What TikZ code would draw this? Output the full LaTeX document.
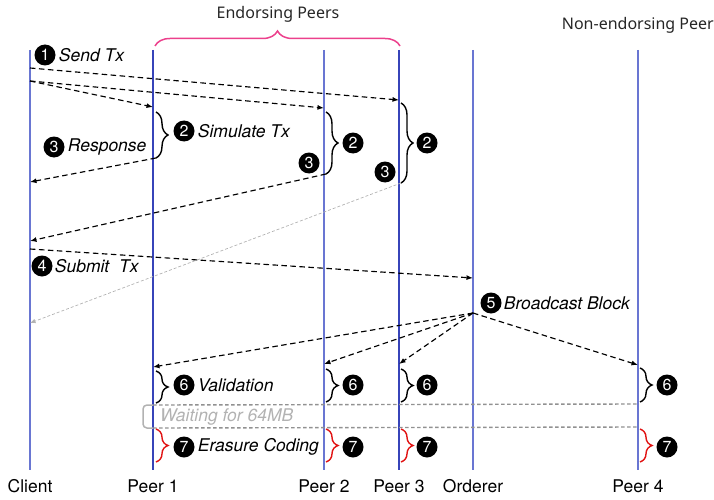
\documentclass[tikz,border=0pt]{standalone}
\usepackage{fontspec}
\setmainfont{TeX Gyre Heros}
\newfontfamily\headfont{Noto Sans}
\usetikzlibrary{arrows.meta,decorations.pathreplacing,positioning}

\definecolor{lifeblue}{RGB}{105,118,210}
\definecolor{lifenavy}{RGB}{55,68,185}
\definecolor{groupPink}{RGB}{236,64,140}
\definecolor{codeRed}{RGB}{225,20,20}
\definecolor{waitGray}{RGB}{145,145,145}

\begin{document}
\begin{tikzpicture}
  [x=1pt,y=-1pt,
   >={Latex[length=6.5pt,width=5pt]},
   life/.style={draw=lifeblue,line width=1.1pt,shorten >=9pt},
   lifedark/.style={draw=lifenavy,line width=1.1pt,shorten >=9pt},
   actor/.style={font=\fontsize{17.5}{20}\selectfont,inner sep=0pt},
   group/.style={font=\headfont\fontsize{16}{18}\selectfont,inner sep=0pt,text=black!85},
   num/.style={circle,fill=black,text=white,inner sep=0pt,minimum size=21pt,font=\fontsize{16}{16}\selectfont},
   stepname/.style={font=\fontsize{17.5}{20}\selectfont\itshape,inner sep=0pt},
   msg/.style={->,line width=1.15pt,dash pattern=on 5.5pt off 3.5pt},
   faintmsg/.style={-{Latex[length=5.5pt,width=4.5pt]},line width=0.7pt,draw=gray!60,dash pattern=on 3pt off 2pt},
   work/.style={decorate,decoration={brace,amplitude=12pt},line width=1.4pt},
   coding/.style={work,draw=codeRed},
   waitline/.style={draw=waitGray,line width=1.4pt,dash pattern=on 3.5pt off 2.5pt}]
  \useasboundingbox (0,0) rectangle (714,500);

  % actors and lifelines
  \node[actor] (client) at (30,486) {Client};
  \node[actor] (peer1) at (153,486) {Peer 1};
  \node[actor] (peer2) at (324,486) {Peer 2};
  \node[actor] (peer3) at (399,486) {Peer 3};
  \node[actor] (orderer) at (473,486) {Orderer};
  \node[actor] (peer4) at (638,486) {Peer 4};
  \coordinate (client_top) at (30,50);
  \coordinate (peer1_top) at (153,50);
  \coordinate (peer2_top) at (324,50);
  \coordinate (peer3_top) at (399,50);
  \coordinate (orderer_top) at (473,50);
  \coordinate (peer4_top) at (638,50);
  \draw[life] (client_top) -- (client.north);
  \draw[lifedark] (peer1_top) -- (peer1.north);
  \draw[life] (peer2_top) -- (peer2.north);
  \draw[lifedark] (peer3_top) -- (peer3.north);
  \draw[life] (orderer_top) -- (orderer.north);
  \draw[life] (peer4_top) -- (peer4.north);

  % groups
  \coordinate (endorse_l) at (155,46);
  \coordinate (endorse_r) at (400,46);
  \draw[decorate,decoration={brace,amplitude=15pt},line width=1.5pt,draw=groupPink] (endorse_l) -- (endorse_r);
  \node[group] (endorse) at (278,14) {Endorsing Peers};
  \node[group,anchor=east] (nonendorse) at (714,25) {Non-endorsing Peer};

  % 1 send
  \node[num] (n1) at (45,55) {1};
  \node[stepname,right=3pt of n1] (send) {Send Tx};
  \coordinate (send_a) at (30,68);
  \coordinate (send_b) at (30,81);
  \coordinate (recv3) at (399,100);
  \coordinate (recv2) at (324,108);
  \coordinate (recv1) at (153,107);
  \draw[msg] (send_a) -- (recv3);
  \draw[msg] (send_b) -- (recv2);
  \draw[msg] (send_b) -- (recv1);

  % 2 simulate
  \coordinate (sim1_s) at (156,112);
  \coordinate (sim1_e) at (156,158);
  \coordinate (sim2_s) at (326,112);
  \coordinate (sim2_e) at (326,174);
  \coordinate (sim3_s) at (401,103);
  \coordinate (sim3_e) at (401,183);
  \draw[work] (sim1_s) -- (sim1_e);
  \draw[work] (sim2_s) -- (sim2_e);
  \draw[work] (sim3_s) -- (sim3_e);
  \node[num] (n2a) at (184,131) {2};
  \node[stepname,right=3pt of n2a] (simulate) {Simulate Tx};
  \node[num] (n2b) at (353,143) {2};
  \node[num] (n2c) at (427,143) {2};

  % 3 response
  \node[num] (n3a) at (54,147) {3};
  \node[stepname,right=3pt of n3a] (response) {Response};
  \node[num] (n3b) at (309,163) {3};
  \node[num] (n3c) at (385,172) {3};
  \coordinate (resp1) at (30,182);
  \coordinate (resp2) at (30,241);
  \coordinate (resp3) at (30,323);
  \draw[msg] (sim1_e) -- (resp1);
  \draw[msg] (sim2_e) -- (resp2);
  \draw[faintmsg] (sim3_e) -- (resp3);

  % 4 submit
  \coordinate (submit_s) at (30,249);
  \coordinate (submit_e) at (473,278);
  \draw[msg] (submit_s) -- (submit_e);
  \node[num] (n4) at (42,266) {4};
  \node[stepname,right=2pt of n4] (submit) {Submit\ \ Tx};

  % 5 broadcast
  \node[num] (n5) at (491,303) {5};
  \node[stepname,right=2pt of n5] (broadcast) {Broadcast Block};
  \coordinate (bcast) at (473,313);
  \coordinate (blk1) at (153,367);
  \coordinate (blk2) at (324,364);
  \coordinate (blk3) at (399,364);
  \coordinate (blk4) at (638,365);
  \draw[msg] (bcast) -- (blk1);
  \draw[msg] (bcast) -- (blk2);
  \draw[msg] (bcast) -- (blk3);
  \draw[msg] (bcast) -- (blk4);

  % 6 validation
  \coordinate (val1_s) at (156,371);
  \coordinate (val1_e) at (156,403);
  \coordinate (val2_s) at (326,369);
  \coordinate (val2_e) at (326,402);
  \coordinate (val3_s) at (401,369);
  \coordinate (val3_e) at (401,402);
  \coordinate (val4_s) at (640,368);
  \coordinate (val4_e) at (640,402);
  \draw[work] (val1_s) -- (val1_e);
  \draw[work] (val2_s) -- (val2_e);
  \draw[work] (val3_s) -- (val3_e);
  \draw[work] (val4_s) -- (val4_e);
  \node[num] (n6a) at (184,385) {6};
  \node[stepname,right=3pt of n6a] (validation) {Validation};
  \node[num] (n6b) at (353,385) {6};
  \node[num] (n6c) at (427,385) {6};
  \node[num] (n6d) at (667,385) {6};

  % waiting
  \coordinate (wait_tl) at (153,405);
  \coordinate (wait_tr) at (638,404);
  \coordinate (wait_bl) at (153,428);
  \coordinate (wait_br) at (638,427);
  \draw[waitline] (wait_tl) -- (wait_tr);
  \draw[waitline] (wait_bl) -- (wait_br);
  \draw[draw=gray!60,line width=1.5pt,rounded corners=4pt] (wait_tl) -| (143,428) -- (wait_bl);
  \node[stepname,text=gray!60,anchor=west] (waiting) at (160,417) {Waiting for 64MB};

  % 7 erasure coding
  \coordinate (ec1_s) at (156,429);
  \coordinate (ec1_e) at (156,462);
  \coordinate (ec2_s) at (326,429);
  \coordinate (ec2_e) at (326,462);
  \coordinate (ec3_s) at (401,429);
  \coordinate (ec3_e) at (401,462);
  \coordinate (ec4_s) at (640,429);
  \coordinate (ec4_e) at (640,462);
  \draw[coding] (ec1_s) -- (ec1_e);
  \draw[coding] (ec2_s) -- (ec2_e);
  \draw[coding] (ec3_s) -- (ec3_e);
  \draw[coding] (ec4_s) -- (ec4_e);
  \node[num] (n7a) at (184,447) {7};
  \node[stepname,right=3pt of n7a] (erasure) {Erasure Coding};
  \node[num] (n7b) at (353,447) {7};
  \node[num] (n7c) at (427,447) {7};
  \node[num] (n7d) at (667,447) {7};
\end{tikzpicture}
\end{document}
